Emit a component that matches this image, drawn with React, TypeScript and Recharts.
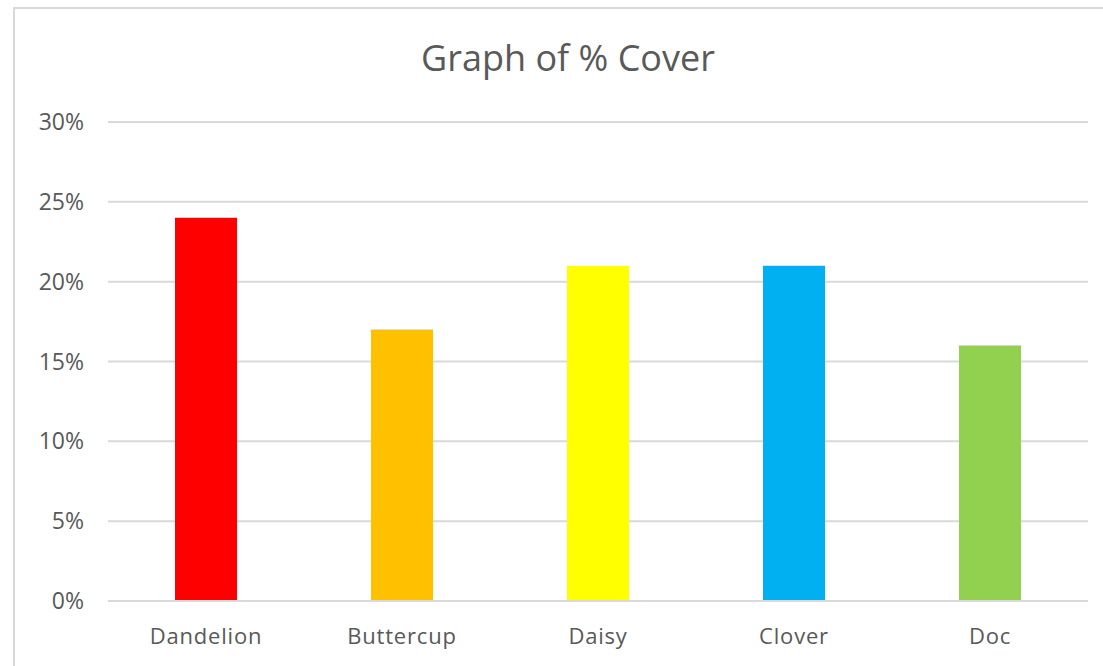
import React from 'react';
import { BarChart, Bar, XAxis, YAxis, CartesianGrid, Cell } from 'recharts';

// plant cover readings (%)
const PLANTS = ['Dandelion', 'Buttercup', 'Daisy', 'Clover', 'Doc'];
const COVER = [24, 17, 21, 21, 16];
const BAR_COLORS = ['#ff0000', '#ffc000', '#ffff00', '#00b0f0', '#92d050'];
const Y_TICKS = [0, 5, 10, 15, 20, 25, 30];

const data = PLANTS.map((name, i) => ({ name, cover: COVER[i] }));

export default function App() {
  return (
    <div style={{ position: 'absolute', left: 0, top: 0, width: 1103, height: 666, overflow: 'hidden', background: '#fff' }}>
      <div
        style={{
          position: 'absolute',
          left: 13,
          top: 7,
          width: 1120,
          height: 700,
          border: '2px solid #d9d9d9',
        }}
      />
      <div
        style={{
          position: 'absolute',
          left: 0,
          top: 33,
          width: 1136,
          textAlign: 'center',
          fontFamily: 'Open Sans, sans-serif',
          fontSize: 36,
          color: '#595959',
        }}
      >
        Graph of % Cover
      </div>
      <div style={{ position: 'absolute', left: 0, top: 0 }}>
        <BarChart
          width={1103}
          height={666}
          data={data}
          margin={{ top: 122, right: 15, bottom: 20, left: 28 }}
          barCategoryGap={67}
        >
          <CartesianGrid vertical={false} stroke="#d9d9d9" strokeWidth={2} />
          <XAxis
            dataKey="name"
            height={45}
            tickLine={false}
            axisLine={{ stroke: '#d9d9d9', strokeWidth: 2 }}
            tickMargin={21}
            tick={{ fill: '#595959', fontSize: 22, fontFamily: 'Open Sans, sans-serif', letterSpacing: 0.8 }}
          />
          <YAxis
            width={80}
            domain={[0, 30]}
            ticks={Y_TICKS}
            tickFormatter={(v) => `${v}%`}
            tickLine={false}
            axisLine={false}
            tickMargin={18}
            tick={{ fill: '#595959', fontSize: 23, fontFamily: 'Open Sans, sans-serif' }}
          />
          <Bar dataKey="cover" isAnimationActive={false}>
            {data.map((d, i) => (
              <Cell key={d.name} fill={BAR_COLORS[i]} />
            ))}
          </Bar>
        </BarChart>
      </div>
    </div>
  );
}
